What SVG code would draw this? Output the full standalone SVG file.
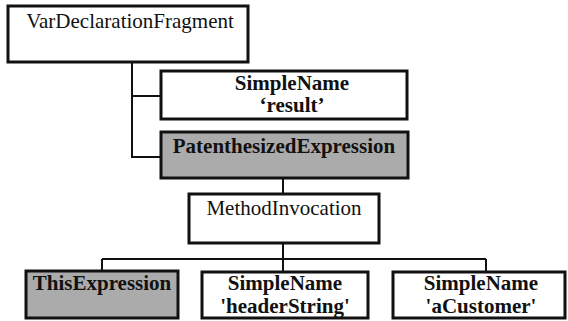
<svg xmlns="http://www.w3.org/2000/svg" width="568" height="321" viewBox="0 0 568 321">
<style>
.box{fill:#ffffff;stroke:#111;stroke-width:3}
.grey{fill:#ababab;stroke:#111;stroke-width:3}
.t{font-family:"Liberation Serif","Times New Roman",serif;font-size:21px;fill:#111;text-anchor:middle}
.b{font-weight:bold}
.c{fill:none;stroke:#111;stroke-width:2}
</style>
<rect width="568" height="321" fill="#ffffff"/>
<g id="connectors">
<path class="c" d="M132,62 V157 H161 M132,96 H161"/>
<path class="c" d="M283,178 V193"/>
<path class="c" d="M283,243 V259 M102,259 H486 M102,259 V271 M283,259 V271 M486,259 V271"/>
</g>
<g id="varDecl">
<rect class="box" x="8" y="6" width="240" height="56"/>
<text class="t" x="130" y="28">VarDeclarationFragment</text>
</g>
<g id="simpleNameResult">
<rect class="box" x="161" y="71" width="246" height="48"/>
<text class="t b" x="292" y="90">SimpleName</text>
<text class="t b" x="292" y="112">‘result’</text>
</g>
<g id="parenExpr">
<rect class="grey" x="161" y="132" width="247" height="46"/>
<text class="t b" x="284" y="153">PatenthesizedExpression</text>
</g>
<g id="methodInvocation">
<rect class="box" x="189" y="194" width="190" height="49"/>
<text class="t" x="284" y="215">MethodInvocation</text>
</g>
<g id="thisExpr">
<rect class="grey" x="26" y="271" width="152" height="47"/>
<text class="t b" x="102" y="290">ThisExpression</text>
</g>
<g id="simpleNameHeader">
<rect class="box" x="202" y="272" width="166" height="46"/>
<text class="t b" x="285" y="290">SimpleName</text>
<text class="t b" x="285" y="313">'headerString'</text>
</g>
<g id="simpleNameCustomer">
<rect class="box" x="393" y="272" width="172" height="46"/>
<text class="t b" x="481" y="290">SimpleName</text>
<text class="t b" x="481" y="313">'aCustomer'</text>
</g>
</svg>
